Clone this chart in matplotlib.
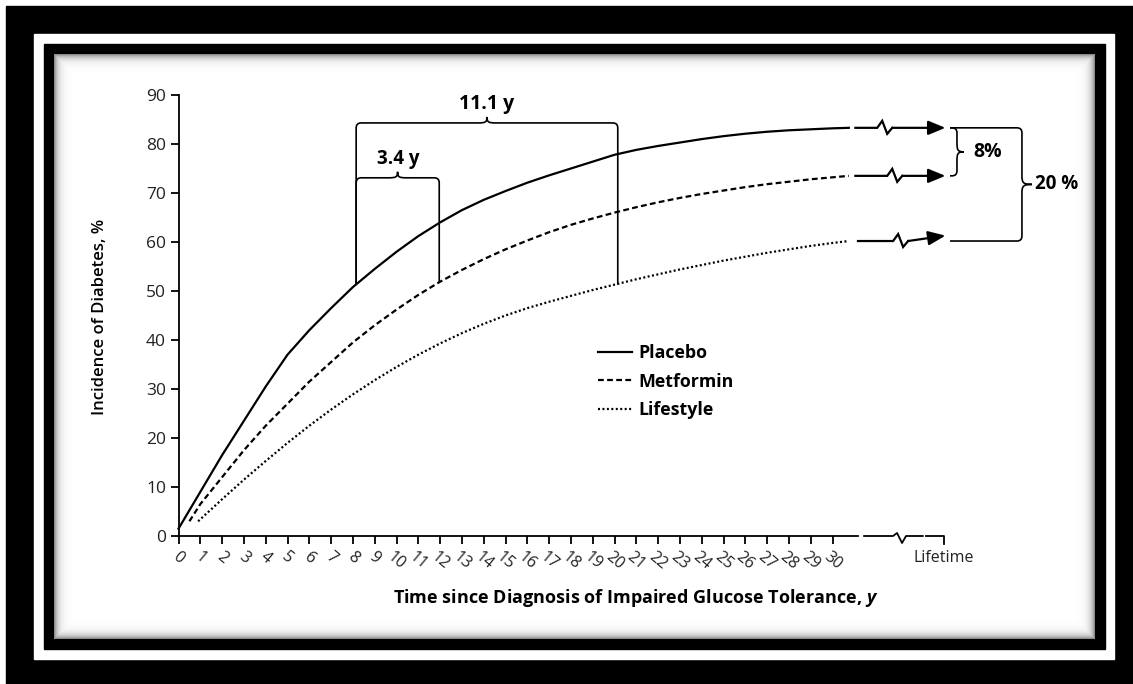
import numpy as np
import matplotlib
matplotlib.use("Agg")
import matplotlib.pyplot as plt
from matplotlib.patches import Rectangle, PathPatch
from matplotlib.path import Path

plt.rcParams['font.family'] = ['Open Sans', 'DejaVu Sans']
plt.rcParams['mathtext.fontset'] = 'custom'
plt.rcParams['mathtext.it'] = 'Open Sans:italic:bold'
plt.rcParams['mathtext.rm'] = 'Open Sans'

# data
placebo_x = [0, 1, 2, 3, 4, 5, 6, 7, 8, 9, 10, 11, 12, 13, 14, 15, 16, 17, 18, 19, 20,
             21, 22, 23, 24, 25, 26, 27, 28, 29, 30, 30.75]
placebo_y = [1.5, 9, 16.5, 23.5, 30.5, 37, 42, 46.5, 50.8, 54.5, 58, 61.2, 64, 66.5, 68.6, 70.4,
             72.1, 73.6, 75, 76.4, 77.8, 78.8, 79.6, 80.3, 81, 81.6, 82.1, 82.5, 82.8, 83.0, 83.2, 83.3]
metformin_x = [0.5, 1, 2, 3, 4, 5, 6, 7, 8, 9, 10, 11, 12, 13, 14, 15, 16, 17, 18, 19, 20,
               21, 22, 23, 24, 25, 26, 27, 28, 29, 30, 30.75]
metformin_y = [3, 6.5, 12, 17.5, 22.5, 27, 31.5, 35.5, 39.5, 43, 46.2, 49.2, 51.9, 54.3, 56.5, 58.5,
               60.3, 62, 63.5, 64.8, 66, 67.1, 68.1, 69, 69.8, 70.5, 71.2, 71.8, 72.3, 72.8, 73.2, 73.5]
lifestyle_x = [0.9, 2, 3, 4, 5, 6, 7, 8, 9, 10, 11, 12, 13, 14, 15, 16, 17, 18, 19, 20,
               21, 22, 23, 24, 25, 26, 27, 28, 29, 30, 30.75]
lifestyle_y = [3, 7.5, 11.5, 15.3, 19, 22.5, 25.8, 28.9, 31.8, 34.5, 37, 39.3, 41.4, 43.3, 45, 46.5,
               47.8, 49, 50.2, 51.3, 52.4, 53.4, 54.4, 55.3, 56.2, 57, 57.8, 58.5, 59.2, 59.8, 60.2]
series_labels = ['Placebo', 'Metformin', 'Lifestyle']
lifetime_start = [83.3, 73.5, 60.2]
lifetime_end = [83.3, 73.5, 61.3]
x_ticks = list(range(0, 31))
y_ticks = list(range(0, 91, 10))
gap_labels = ['3.4 y', '11.1 y']
diff_labels = ['8%', '20 %']

W, H = 1133, 684
SX, SY = 21.8, 4.9   # pixels per data unit


def fig_rect(x0, y0, x1, y1):
    return (x0 / W, 1 - y1 / H), (x1 - x0) / W, (y1 - y0) / H


fig = plt.figure(figsize=(W / 100, H / 100), dpi=100, facecolor='white')

# picture frame
for (x0, y0, x1, y1), c in [((6, 6, W, H), 'black'), ((34, 34, 1114, 659), 'white'),
                            ((44, 44, 1105, 649), 'black')]:
    xy, w, h = fig_rect(x0, y0, x1, y1)
    fig.patches.append(Rectangle(xy, w, h, transform=fig.transFigure, color=c, zorder=0))

# inner white panel with soft shadow at the edges
bx0, by0, bx1, by1 = 54, 54, 1095, 639
bg = fig.add_axes([bx0 / W, 1 - by1 / H, (bx1 - bx0) / W, (by1 - by0) / H], zorder=1)
yy, xx = np.mgrid[0:by1 - by0, 0:bx1 - bx0]
d = np.minimum(np.minimum(xx, yy), np.minimum(xx[:, ::-1], yy[::-1, :]))
bg.imshow(1 - 0.45 * np.exp(-d / 4.0), cmap='gray', vmin=0, vmax=1, aspect='auto',
          interpolation='bilinear')
bg.axis('off')

ax = fig.add_axes([178.5 / W, (H - 536) / H, 40 * SX / W, 90 * SY / H], zorder=2)
ax.set_facecolor('none')
ax.set_xlim(0, 40)
ax.set_ylim(0, 90)

lw = 1.6
ax.plot(placebo_x, placebo_y, color='black', lw=lw, label=series_labels[0], clip_on=False)
ax.plot(metformin_x, metformin_y, color='black', lw=lw, ls=(0, (2.6, 1.5)), label=series_labels[1], clip_on=False)
ax.plot(lifestyle_x, lifestyle_y, color='black', lw=lw, ls=(0, (0.9, 1.1)), label=series_labels[2], clip_on=False)

for s in ['top', 'right']:
    ax.spines[s].set_visible(False)
for s in ['left', 'bottom']:
    ax.spines[s].set_linewidth(1.3)
ax.spines['bottom'].set_bounds(0, 31.15)
ax.set_yticks(y_ticks)
ax.set_xticks(x_ticks)
ax.set_xticklabels([str(t) for t in x_ticks], rotation=-40, fontsize=11.5, color='#222222')
ax.tick_params(axis='x', length=6, width=1.3, pad=3)
ax.tick_params(axis='y', length=6, width=1.3, pad=3, labelsize=12.5, labelcolor='#222222')


def px(dx):
    return dx / SX


def py(dy):
    return dy / SY


# axis break and lifetime tick
x_brk = 33.19
ax.plot([31.45, x_brk - px(9), x_brk - px(5), x_brk, x_brk + px(4), 34.14],
        [0, 0, py(3), -py(7), 0, 0], color='black', lw=1.3, clip_on=False)
ax.plot([34.29, 35.1, 35.1], [0, 0, -py(8)], color='black', lw=1.3, clip_on=False)
ax.text(35.1, -py(14), 'Lifetime', ha='center', va='top', fontsize=11.5, color='#222222')

# lifetime arrows with zigzag
zig_centers = [32.51, 32.97, 33.24]
starts = [31.05, 31.05, 31.17]
tip_x = 35.18
for x0, xc, y0, y1 in zip(starts, zig_centers, lifetime_start, lifetime_end):
    xs = [x0, xc - px(10), xc - px(5), xc, xc + px(5)]
    ys = [y0, y0, y0 + py(7), y0 - py(6), y0]
    ax.plot(xs, ys, color='black', lw=lw, clip_on=False, solid_joinstyle='miter')
    ax.annotate('', xy=(tip_x, y1), xytext=(xc + px(5), y0),
                arrowprops=dict(arrowstyle='-|>,head_length=0.8,head_width=0.33',
                                mutation_scale=13, color='black', lw=lw,
                                shrinkA=0, shrinkB=0))


def hbrace(x0, x1, y, yl, yr, cx):
    rx, ry, ch, cw = px(5), py(5), py(6), px(9)
    verts = [(x0, yl), (x0, y - ry), (x0, y), (x0 + rx, y), (cx - cw, y),
             (cx - cw * 0.2, y), (cx, y + ch * 0.1), (cx, y + ch),
             (cx, y + ch * 0.1), (cx + cw * 0.2, y), (cx + cw, y),
             (x1 - rx, y), (x1, y), (x1, y - ry), (x1, yr)]
    codes = [Path.MOVETO, Path.LINETO, Path.CURVE3, Path.CURVE3, Path.LINETO,
             Path.CURVE4, Path.CURVE4, Path.CURVE4, Path.CURVE4, Path.CURVE4, Path.CURVE4,
             Path.LINETO, Path.CURVE3, Path.CURVE3, Path.LINETO]
    ax.add_patch(PathPatch(Path(verts, codes), fill=False, lw=1.2, color='black', clip_on=False))


def vbrace(xs, xv, yt, yb, cl):
    rx, ry, cw = px(5), py(5), py(9)
    ym = (yt + yb) / 2
    verts = [(xs, yt), (xv - rx, yt), (xv, yt), (xv, yt - ry), (xv, ym + cw),
             (xv, ym + cw * 0.2), (xv + cl * 0.1, ym), (xv + cl, ym),
             (xv + cl * 0.1, ym), (xv, ym - cw * 0.2), (xv, ym - cw),
             (xv, yb + ry), (xv, yb), (xv - rx, yb), (xs, yb)]
    codes = [Path.MOVETO, Path.LINETO, Path.CURVE3, Path.CURVE3, Path.LINETO,
             Path.CURVE4, Path.CURVE4, Path.CURVE4, Path.CURVE4, Path.CURVE4, Path.CURVE4,
             Path.LINETO, Path.CURVE3, Path.CURVE3, Path.LINETO]
    ax.add_patch(PathPatch(Path(verts, codes), fill=False, lw=1.2, color='black', clip_on=False))
    return ym


# time gap brackets
hbrace(8.15, 11.96, 73.1, 51.3, 51.9, 10.05)
hbrace(8.15, 20.15, 84.3, 51.3, 51.3, 14.15)
ax.text(10.08, 77.0, gap_labels[0], ha='center', va='center', fontsize=13.5, fontweight='bold')
ax.text(14.15, 88.2, gap_labels[1], ha='center', va='center', fontsize=14, fontweight='bold')

# lifetime difference braces
ym1 = vbrace(35.39, 35.71, 83.3, 73.5, px(7))
ym2 = vbrace(35.39, 38.69, 83.3, 60.2, px(10))
ax.text(36.44, ym1, diff_labels[0], ha='left', va='center', fontsize=14, fontweight='bold')
ax.text(39.29, ym2, diff_labels[1], ha='left', va='center', fontsize=13.5, fontweight='bold')

ax.legend(loc='upper left', bbox_to_anchor=(598 / W, 1 - 344 / H), bbox_transform=fig.transFigure,
          frameon=False, prop={'weight': 'bold', 'size': 12.8},
          handlelength=1.9, handletextpad=0.35, labelspacing=0.6, borderpad=0, borderaxespad=0)

fig.text(100 / W, 1 - 317 / H, 'Incidence of Diabetes, %', rotation=90, ha='center', va='center',
         fontsize=12, fontweight='semibold')
fig.text(636 / W, 1 - 598 / H, 'Time since Diagnosis of Impaired Glucose Tolerance, $\\mathit{y}$',
         ha='center', va='center', fontsize=13, fontweight='bold')

fig.savefig('out.png', dpi=100)
